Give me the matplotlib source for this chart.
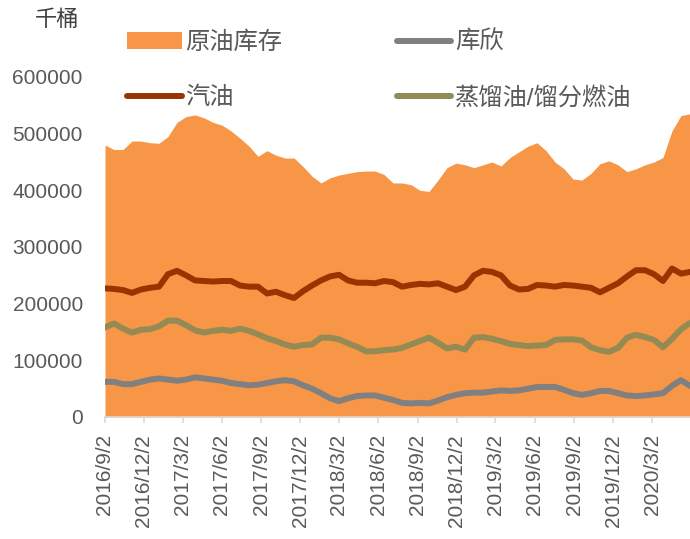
import numpy as np
import pandas as pd
import matplotlib
matplotlib.use('Agg')
from matplotlib import pyplot as plt
from matplotlib.patches import Patch
from matplotlib.lines import Line2D
from matplotlib.ticker import FuncFormatter

plt.rcParams['font.family'] = ['Liberation Sans', 'Noto Sans CJK SC', 'DejaVu Sans']

# weekly EIA data read every 3 weeks, unit: 千桶
dates = pd.date_range('2016-09-02', periods=66, freq='21D')

crude = np.array([480, 472, 472, 487, 487, 484, 483, 495, 520, 530,
                  533, 528, 520, 515, 505, 492, 478, 460, 470, 462,
                  457, 457, 442, 425, 413, 422, 427, 430, 433, 434,
                  434, 428, 413, 413, 410, 400, 398, 418, 440, 448,
                  445, 440, 445, 450, 443, 458, 468, 478, 484, 470,
                  450, 438, 420, 418, 430, 447, 452, 445, 433, 438,
                  445, 450, 458, 505, 532, 535]) * 1000
gasoline = np.array([227, 226, 224, 219, 225, 228, 230, 252, 258, 250,
                     241, 240, 239, 240, 240, 232, 230, 230, 218, 221,
                     215, 210, 222, 232, 241, 248, 251, 241, 237, 237,
                     236, 240, 238, 230, 233, 235, 234, 236, 230, 224,
                     230, 250, 258, 256, 250, 232, 225, 226, 233, 232,
                     230, 233, 232, 230, 228, 220, 228, 236, 248, 259,
                     259, 252, 240, 262, 253, 256]) * 1000
distillate = np.array([158, 165, 156, 149, 154, 155, 160, 170, 170, 162,
                       153, 149, 152, 154, 152, 156, 152, 146, 139, 134,
                       128, 124, 127, 128, 140, 140, 137, 130, 124, 116,
                       116, 118, 119, 122, 128, 134, 140, 131, 121, 124,
                       119, 140, 141, 138, 134, 129, 127, 125, 126, 127,
                       136, 137, 137, 135, 123, 118, 115, 122, 140, 145,
                       141, 136, 123, 138, 155, 166]) * 1000
cushing = np.array([62, 62, 58, 58, 62, 66, 68, 66, 64, 66,
                    70, 68, 66, 64, 60, 58, 56, 57, 60, 63,
                    65, 63, 56, 50, 42, 33, 28, 33, 37, 38,
                    38, 34, 30, 25, 24, 25, 24, 29, 35, 39,
                    42, 43, 43, 45, 47, 46, 47, 50, 53, 53,
                    53, 48, 42, 39, 42, 46, 46, 42, 38, 37,
                    38, 40, 42, 55, 65, 55]) * 1000

tick_dates = pd.date_range('2016-09-01', '2020-03-01', freq='3MS') + pd.Timedelta(days=1)
tick_labels = [f'{d.year}/{d.month}/{d.day}' for d in tick_dates]

names = ['原油库存', '库欣', '汽油', '蒸馏油/馏分燃油']
c_crude = '#F79646'
c_cush = '#808080'
c_gas = '#993300'
c_dist = '#948A54'
lw = 4.3

fig = plt.figure(figsize=(6.9, 5.39), dpi=100)
ax = fig.add_axes([105 / 690, 122 / 539, 585 / 690, 340 / 539])

ax.fill_between(dates, 0, crude, color=c_crude, lw=0)
ax.plot(dates, cushing, color=c_cush, lw=lw, solid_capstyle='round')
ax.plot(dates, gasoline, color=c_gas, lw=lw, solid_capstyle='round')
ax.plot(dates, distillate, color=c_dist, lw=lw, solid_capstyle='round')

ax.set_xlim(dates[0], dates[-1])
ax.set_ylim(0, 600000)
ax.set_yticks(range(0, 600001, 100000))
ax.yaxis.set_major_formatter(FuncFormatter(lambda v, p: f'{int(v)}'))
ax.set_xticks(tick_dates)
ax.set_xticklabels(tick_labels, rotation=90)

for s in ['top', 'right', 'left']:
    ax.spines[s].set_visible(False)
ax.spines['bottom'].set_color('#D9D9D9')
ax.spines['bottom'].set_linewidth(1.2)
ax.tick_params(axis='y', length=0, pad=16, labelsize=15, labelcolor='#595959')
ax.tick_params(axis='x', length=4.3, width=1.2, color='#D9D9D9', pad=8,
               labelsize=15, labelcolor='#595959')

handles = [Patch(facecolor=c_crude, edgecolor='none'),
           Line2D([], [], color=c_gas, lw=lw, solid_capstyle='round'),
           Line2D([], [], color=c_cush, lw=lw, solid_capstyle='round'),
           Line2D([], [], color=c_dist, lw=lw, solid_capstyle='round')]
labels = [names[0], names[2], names[1], names[3]]
fig.legend(handles, labels, ncol=2, loc='upper left',
           bbox_to_anchor=(127 / 690, 1 - 31 / 539), frameon=False,
           fontsize=17.5, labelcolor='#595959', handlelength=2.25,
           handletextpad=0.15, columnspacing=4.7, labelspacing=1.35,
           borderpad=0, borderaxespad=0)

fig.text(57 / 690, 1 - 21 / 539, '千桶', ha='center', va='center',
         fontsize=16, color='#404040')

fig.savefig('out.png', dpi=100)
